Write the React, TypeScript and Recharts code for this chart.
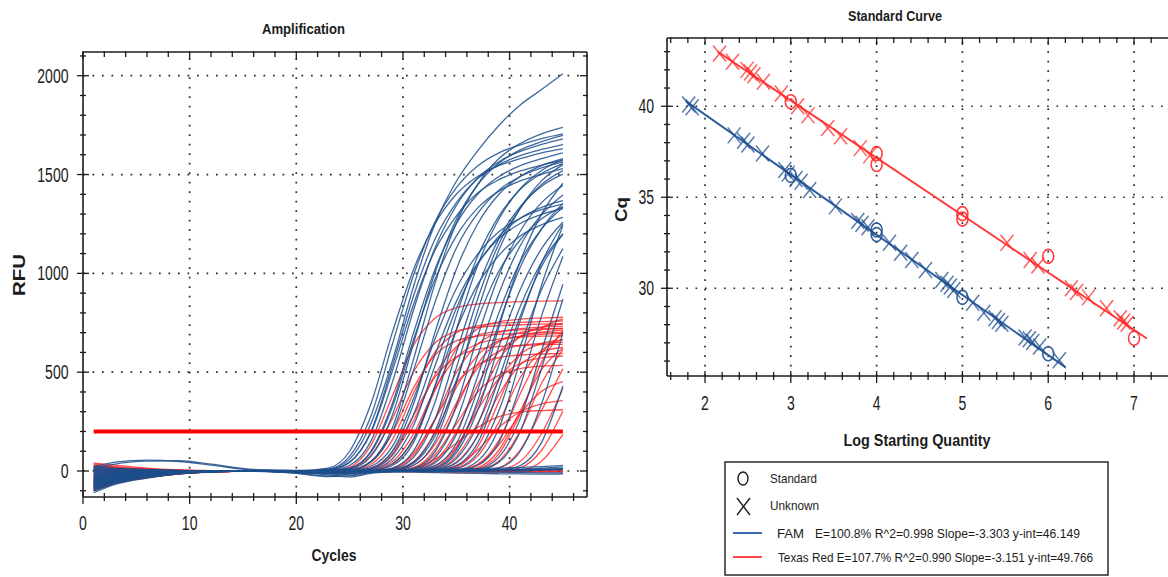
import React from "react";
import { LineChart, Line, XAxis, YAxis, ReferenceLine, ScatterChart, Scatter } from "recharts";

/* ---------- Amplification (RFU per cycle, one row per well) ---------- */

const CYCLES = [1, 3, 6, 9, 12, 16, 20, 23, 25, 27, 29, 31, 33, 35, 37, 39, 41, 43, 45];

const FAM_CURVES: number[][] = [
  [-40, -25, -12, -5, -1, 3, 2, 15, 100, 340, 700, 1020, 1250, 1400, 1490, 1545, 1580, 1610, 1630],
  [-70, -45, -24, -10, -3, 2, -2, 9, 74, 278, 640, 992, 1260, 1433, 1543, 1610, 1650, 1682, 1706],
  [-20, -12, -6, -2, 0, 2, 1, 8, 60, 240, 555, 935, 1250, 1465, 1620, 1748, 1852, 1930, 2010],
  [-90, -55, -30, -12, -4, 3, 0, 5, 45, 200, 530, 887, 1173, 1357, 1479, 1550, 1596, 1627, 1652],
  [10, 6, 3, 1, 0, -2, -3, 5, 44, 194, 504, 844, 1116, 1290, 1407, 1474, 1518, 1548, 1571],
  [-55, -35, -18, -7, -2, 1, -1, 3, 29, 151, 447, 816, 1128, 1342, 1482, 1565, 1617, 1652, 1680],
  [-30, -18, -9, -4, -1, 2, 3, 2, 15, 100, 340, 700, 1020, 1250, 1400, 1490, 1545, 1580, 1610],
  [-80, -50, -26, -11, -3, 2, -1, 2, 14, 95, 323, 665, 969, 1188, 1330, 1416, 1468, 1501, 1530],
  [25, 15, 8, 3, 1, -1, -2, 1, 10, 74, 281, 647, 1002, 1272, 1447, 1558, 1625, 1666, 1698],
  [-15, -9, -4, -2, 0, 1, 2, 0, 5, 49, 218, 567, 948, 1254, 1450, 1581, 1657, 1706, 1739],
  [-65, -40, -21, -9, -2, 2, 0, 0, 3, 24, 123, 366, 667, 922, 1097, 1211, 1279, 1322, 1350],
  [-45, -28, -14, -6, -2, 1, -3, 0, 2, 13, 84, 286, 588, 857, 1050, 1176, 1252, 1298, 1327],
  [5, 3, 1, 0, 0, -1, -4, 0, 1, 8, 61, 231, 531, 822, 1044, 1188, 1279, 1334, 1368],
  [-100, -62, -33, -14, -4, 1, -2, 0, 0, 4, 37, 164, 426, 713, 943, 1091, 1189, 1246, 1283],
  [-35, -22, -11, -5, -1, 2, -5, -3, 0, 3, 28, 145, 430, 785, 1085, 1290, 1425, 1505, 1555],
  [-75, -46, -25, -10, -3, 1, -8, -6, 0, 2, 15, 102, 347, 714, 1040, 1275, 1428, 1520, 1576],
  [-5, -3, -1, 0, 0, -2, -4, -2, 0, 1, 9, 69, 260, 598, 926, 1176, 1338, 1441, 1502],
  [-50, -31, -16, -7, -2, 2, 0, 0, 0, 0, 5, 45, 200, 520, 870, 1150, 1330, 1450, 1520],
  [-85, -52, -28, -12, -3, 1, -1, -4, 0, 0, 3, 29, 149, 443, 809, 1118, 1329, 1468, 1550],
  [15, 9, 4, 2, 0, -1, -2, -2, 0, 0, 2, 15, 97, 330, 679, 989, 1213, 1358, 1445],
  [-60, -37, -19, -8, -2, 1, -6, -12, -4, 0, 1, 9, 67, 252, 580, 898, 1140, 1297, 1397],
  [-25, -15, -8, -3, -1, 1, -10, -25, -15, 0, 0, 5, 41, 184, 478, 800, 1058, 1224, 1334],
  [-95, -58, -31, -13, -4, 0, -2, -3, 0, 0, 0, 3, 27, 138, 409, 746, 1031, 1226, 1354],
  [-40, -24, -12, -5, -1, 2, 1, 0, 0, 0, 0, 2, 14, 90, 306, 630, 918, 1125, 1260],
  [-70, -43, -22, -9, -3, 1, -3, 0, 0, 0, 0, 1, 8, 62, 233, 537, 832, 1056, 1201],
  [0, 1, 0, -1, 0, 1, -5, -8, -2, 0, 0, 0, 5, 41, 180, 468, 783, 1035, 1197],
  [-50, -30, -15, -6, -2, 2, 0, 0, 0, 0, 0, 0, 2, 14, 90, 306, 630, 918, 1125],
  [-30, -19, -9, -4, -1, 1, -2, 0, 0, 0, 0, 0, 0, 5, 49, 216, 562, 940, 1242],
  [-110, -68, -36, -15, -4, 0, -3, -5, 0, 0, 0, 0, 0, 3, 28, 145, 430, 785, 1085],
  [20, 12, 6, 2, 0, -1, 0, 0, 0, 0, 0, 0, 0, 0, 9, 70, 265, 610, 945],
  [-65, -40, -20, -8, -2, 2, -4, 0, 0, 0, 0, 0, 0, 0, 0, 15, 100, 340, 700],
  [-20, -12, -6, -2, 0, 1, -1, 0, 0, 0, 0, 0, 0, 0, 0, 3, 28, 145, 430],
  [-85, -53, -28, -12, -3, 1, -2, 0, 0, 0, 0, 2, 16, 104, 354, 728, 1061, 1300, 1456],
  [-55, -34, -17, -7, -2, 2, 0, 0, 2, 15, 100, 340, 700, 1020, 1250, 1400, 1490, 1545, 1580],
  [-10, -6, -3, -1, 0, 2, 1, 0, 5, 44, 196, 510, 853, 1127, 1303, 1421, 1490, 1534, 1563],
  [-75, -46, -24, -10, -3, 1, -2, 0, 0, 0, 4, 40, 176, 458, 766, 1012, 1170, 1276, 1338],
  [-45, -28, -14, -6, -2, 1, -1, 0, 0, 0, 0, 0, 3, 27, 141, 417, 761, 1052, 1251],
  [-15, -9, -4, -2, 0, 1, 0, 0, 0, 0, 0, 0, 0, 0, 5, 45, 200, 520, 870],
  // no amplification
  [20, 45, 55, 48, 30, 5, 0, -5, -3, 0, 2, 0, -2, 1, 3, 2, 0, 4, 6],
  [10, 35, 50, 52, 35, 8, 2, -8, -10, -2, 0, 2, 1, 0, -1, 3, 4, 6, 10],
  [-60, -36, -18, -7, -2, 1, -12, -28, -25, -8, -2, 0, 1, 3, 5, 8, 10, 14, 20],
  [-30, -18, -9, -4, -1, 0, -5, -15, -20, -6, -3, -1, 0, -2, -4, -6, -8, -9, -10],
  [-85, -50, -25, -10, -3, -1, -2, -5, -6, -3, 2, 5, 8, 10, 12, 15, 18, 22, 28],
  [0, 2, 1, 0, -1, -2, -4, -10, -12, -5, -4, -6, -8, -10, -12, -14, -15, -16, -15],
  [-50, -30, -15, -6, -2, 0, -8, -20, -30, -12, -4, 0, 3, 5, 6, 7, 8, 10, 12],
  [-100, -62, -32, -13, -4, 0, -1, -2, 0, 3, 5, 6, 4, 2, 3, 5, 6, 8, 9],
];

const TEXAS_RED_CURVES: number[][] = [
  [35, 22, 10, 4, 1, -2, -1, 2, 21, 130, 378, 637, 773, 826, 845, 852, 857, 860, 861],
  [-80, -52, -28, -12, -4, 0, -2, 1, 11, 80, 263, 502, 648, 708, 727, 735, 740, 743, 745],
  [-40, -25, -13, -5, -1, 1, 0, 0, 6, 48, 192, 422, 586, 658, 682, 691, 696, 699, 701],
  [20, 13, 6, 2, 0, -1, -2, 0, 4, 33, 156, 395, 601, 699, 734, 748, 752, 756, 759],
  [-65, -42, -22, -9, -3, 1, -1, 0, 2, 16, 97, 282, 475, 576, 616, 630, 635, 639, 641],
  [-95, -60, -32, -14, -4, 0, -3, 0, 1, 11, 77, 255, 487, 629, 687, 706, 714, 719, 721],
  [5, 3, 1, 0, 0, -1, 0, 0, 0, 6, 47, 188, 414, 573, 644, 667, 677, 682, 684],
  [-50, -32, -17, -7, -2, 1, -1, 0, 0, 4, 34, 161, 407, 618, 719, 755, 768, 774, 778],
  [-20, -13, -6, -2, 0, 1, -1, 0, 0, 2, 15, 90, 262, 443, 537, 574, 587, 592, 595],
  [-75, -48, -25, -10, -3, 0, -2, 0, 0, 1, 11, 79, 261, 497, 641, 701, 720, 728, 733],
  [30, 19, 9, 3, 1, -1, -2, 0, 0, 0, 6, 48, 192, 422, 586, 658, 682, 691, 696],
  [-35, -22, -11, -4, -1, 1, 0, 0, 0, 0, 4, 29, 135, 342, 520, 605, 635, 646, 651],
  [-55, -35, -18, -7, -2, 0, -1, 0, 0, 0, 1, 13, 81, 237, 400, 485, 518, 530, 534],
  [-10, -6, -3, -1, 0, 1, 0, 0, 0, 0, 0, 10, 60, 140, 220, 275, 298, 306, 310],
  [-85, -54, -29, -12, -3, 0, -2, 0, 0, 0, 0, 6, 50, 198, 436, 604, 678, 703, 713],
  [0, 0, 1, 0, 0, -1, -1, 0, 0, 0, 0, 3, 26, 122, 308, 468, 544, 572, 582],
  [-45, -28, -15, -6, -2, 1, 0, 0, 0, 0, 0, 2, 19, 114, 333, 562, 681, 728, 745],
  [-100, -64, -34, -14, -4, 0, -2, 0, 0, 0, 0, 0, 10, 73, 240, 458, 591, 645, 663],
  [15, 9, 4, 1, 0, -1, -1, 0, 0, 0, 0, 0, 5, 44, 176, 387, 537, 603, 625],
  [-60, -38, -20, -8, -2, 0, -1, 0, 0, 0, 0, 0, 3, 25, 105, 220, 300, 340, 356],
  [-25, -16, -8, -3, -1, 1, 0, 0, 0, 0, 0, 0, 2, 20, 121, 352, 594, 720, 770],
  [-70, -45, -24, -10, -3, 0, -1, 0, 0, 0, 0, 0, 0, 11, 75, 248, 472, 610, 666],
  [-30, -19, -10, -4, -1, 0, 0, 0, 0, 0, 0, 0, 0, 4, 33, 132, 290, 403, 452],
  [25, 16, 8, 3, 1, -1, -1, 0, 0, 0, 0, 0, 0, 4, 33, 155, 391, 595, 692],
  [-90, -57, -30, -12, -3, 0, -1, 0, 0, 0, 0, 0, 0, 0, 17, 105, 304, 513, 622],
  [-40, -25, -13, -5, -1, 1, 0, 0, 0, 0, 0, 0, 0, 0, 12, 87, 289, 551, 711],
  [-15, -10, -5, -2, 0, 0, -1, 0, 0, 0, 0, 0, 0, 0, 6, 51, 202, 444, 616],
  [-60, -38, -20, -8, -2, 0, -1, 0, 0, 0, 0, 0, 0, 0, 0, 17, 106, 307, 518],
  [10, 6, 3, 1, 0, 0, -1, 0, 0, 0, 0, 0, 0, 0, 0, 6, 48, 190, 418],
  [-80, -50, -27, -11, -3, 0, -1, 0, 0, 0, 0, 0, 0, 0, 0, 0, 17, 105, 304],
  [-50, -31, -16, -6, -2, 0, 0, 0, 0, 0, 0, 0, 0, 0, 0, 0, 5, 50, 185],
  [-30, -19, -10, -4, -1, 1, 0, 0, 0, 0, 2, 18, 110, 320, 540, 655, 700, 716, 722],
  // no amplification
  [40, 30, 15, 6, 2, -1, -3, -4, -2, 0, 1, 0, -2, -4, -6, -4, -2, 0, -1],
  [-90, -60, -35, -15, -4, 0, -2, -6, -4, -2, 0, 2, 1, 0, -1, 0, 2, 1, 0],
  [-70, -50, -30, -14, -5, -1, -3, -8, -12, -6, -3, -4, -6, -5, -3, -4, -6, -5, -4],
];

const THRESHOLD = 200;
const THRESHOLD_CYCLES = [1, 45];
const AMP_X_LABELS = [0, 10, 20, 30, 40];
const AMP_Y_LABELS = [0, 500, 1000, 1500, 2000];

/* ---------- Standard curve (Cq vs log starting quantity) ---------- */

const FAM_UNKNOWN_LOGQ = [1.81, 1.85, 2.34, 2.45, 2.5, 2.67, 2.93, 2.97, 3.06, 3.12, 3.22, 3.52, 3.78, 3.83, 3.9, 4.15, 4.28, 4.41, 4.57, 4.76, 4.82, 4.86, 4.9, 5.12, 5.25, 5.38, 5.42, 5.46, 5.73, 5.78, 5.82, 5.9, 6.13];
const FAM_UNKNOWN_CQ = [40.1, 39.95, 38.4, 38.1, 37.9, 37.4, 36.5, 36.3, 36.0, 35.85, 35.4, 34.5, 33.7, 33.55, 33.35, 32.5, 31.95, 31.55, 31.0, 30.45, 30.25, 30.1, 29.9, 29.2, 28.65, 28.35, 28.2, 28.05, 27.3, 27.2, 27.05, 26.8, 26.05];
const FAM_STANDARD_LOGQ = [3, 4, 4, 5, 6];
const FAM_STANDARD_CQ = [36.2, 33.2, 32.95, 29.5, 26.4];
const FAM_FIT_LOGQ = [1.78, 6.2];
const FAM_FIT_CQ = [40.27, 25.67];

const TR_UNKNOWN_LOGQ = [2.17, 2.32, 2.49, 2.53, 2.57, 2.68, 2.89, 3.08, 3.2, 3.43, 3.58, 3.81, 3.92, 5.52, 5.79, 5.88, 6.27, 6.33, 6.47, 6.68, 6.84, 6.88, 6.92];
const TR_UNKNOWN_CQ = [42.9, 42.45, 42.0, 41.85, 41.7, 41.35, 40.7, 40.0, 39.5, 38.8, 38.35, 37.7, 37.3, 32.5, 31.55, 31.25, 30.0, 29.8, 29.5, 28.9, 28.35, 28.17, 28.05];
const TR_STANDARD_LOGQ = [3, 4, 4, 5, 5, 6, 7];
const TR_STANDARD_CQ = [40.25, 37.4, 36.8, 34.1, 33.8, 31.75, 27.25];
const TR_FIT_LOGQ = [2.15, 7.15];
const TR_FIT_CQ = [42.99, 27.24];

const SC_X_LABELS = [2, 3, 4, 5, 6, 7];
const SC_Y_LABELS = [30, 35, 40];

/* ---------- styling ---------- */

const INK = "#1c1c1c";
const FONT = "'Liberation Sans', Arial, Helvetica, sans-serif";
const FAM_BLUE = "#1d4f8c";
const TR_RED = "#ff1414";

const ampRows = CYCLES.map((cycle, i) => {
  const row: Record<string, number> = { cycle };
  FAM_CURVES.forEach((c, k) => (row[`fam${k}`] = c[i]));
  TEXAS_RED_CURVES.forEach((c, k) => (row[`tr${k}`] = c[i]));
  return row;
});

const pts = (xs: number[], ys: number[]) => xs.map((x, i) => ({ x, y: ys[i] }));

const AMP_X_TICKS = Array.from({ length: 24 }, (_, i) => i * 2);
const AMP_Y_TICKS = Array.from({ length: 23 }, (_, i) => -100 + i * 100);
const SC_X_TICKS = Array.from({ length: 29 }, (_, i) => Math.round((1.6 + i * 0.2) * 10) / 10);
const SC_Y_TICKS = Array.from({ length: 18 }, (_, i) => 26 + i);

const AMP_X_DOMAIN: [number, number] = [0, 47.26];
const AMP_Y_DOMAIN: [number, number] = [-131.5, 2120];
const SC_X_DOMAIN: [number, number] = [1.557, 7.396];
const SC_Y_DOMAIN: [number, number] = [25.18, 43.75];

function Num({ x, y, value, anchor }: { x: number; y: number; value: number; anchor: "start" | "middle" | "end" }) {
  const s = String(value);
  return (
    <text x={x} y={y} textAnchor={anchor} fontSize={20} fontFamily={FONT} fill={INK}
      textLength={s.length * 7.8} lengthAdjust="spacingAndGlyphs">
      {s}
    </text>
  );
}

function BottomTick({ x = 0, y = 0, payload, labels, major, dy }: any) {
  const v = payload?.value;
  const big = major(v);
  return (
    <g>
      <line x1={x} x2={x} y1={y - (big ? 5 : 4)} y2={y + (big ? 7 : 4)} stroke={INK} strokeWidth={1.3} />
      {labels.includes(v) && <Num x={x} y={y + dy} value={v} anchor="middle" />}
    </g>
  );
}

function LeftTick({ x = 0, y = 0, payload, labels, major, dx }: any) {
  const v = payload?.value;
  const big = major(v);
  return (
    <g>
      <line x1={x - (big ? 6 : 3)} x2={x + (big ? 6 : 3)} y1={y} y2={y} stroke={INK} strokeWidth={1.3} />
      {labels.includes(v) && <Num x={x - dx} y={y + 7} value={v} anchor="end" />}
    </g>
  );
}

function TopTick({ x = 0, y = 0, payload, major }: any) {
  const big = major(payload?.value);
  return <line x1={x} x2={x} y1={y - 1} y2={y + (big ? 7 : 5)} stroke={INK} strokeWidth={1.3} />;
}

function RightTick({ x = 0, y = 0, payload, major }: any) {
  const big = major(payload?.value);
  return <line x1={x - (big ? 7 : 4)} x2={x + 1} y1={y} y2={y} stroke={INK} strokeWidth={1.3} />;
}

const ampMajorX = (v: number) => v % 10 === 0;
const ampMajorY = (v: number) => v % 500 === 0;
const scMajorX = (v: number) => Number.isInteger(v);
const scMajorY = (v: number) => v % 5 === 0;

const DOTS = { stroke: "#2a2a2a", strokeWidth: 1.7, strokeDasharray: "1.7 7.8" };

function XMark({ cx = 0, cy = 0, color }: any) {
  return (
    <g stroke={color} strokeWidth={1.5} strokeOpacity={0.75}>
      <line x1={cx - 6.5} y1={cy - 8} x2={cx + 6.5} y2={cy + 8} />
      <line x1={cx + 6.5} y1={cy - 8} x2={cx - 6.5} y2={cy + 8} />
    </g>
  );
}

function OMark({ cx = 0, cy = 0, color }: any) {
  return <ellipse cx={cx} cy={cy} rx={5.5} ry={7} fill="none" stroke={color} strokeWidth={1.6} strokeOpacity={0.9} />;
}

function AmplificationChart() {
  return (
    <LineChart width={600} height={577} data={ampRows} margin={{ top: 51, right: 12, bottom: 0, left: 0 }}>
      <XAxis dataKey="cycle" type="number" domain={AMP_X_DOMAIN} allowDataOverflow ticks={AMP_X_TICKS} interval={0}
        height={80} tickSize={0} tickMargin={0} tickLine={false} axisLine={{ stroke: INK, strokeWidth: 1.6 }}
        tick={(p: any) => <BottomTick {...p} labels={AMP_X_LABELS} major={ampMajorX} dy={33} />} />
      <XAxis xAxisId="top" orientation="top" dataKey="cycle" type="number" domain={AMP_X_DOMAIN} allowDataOverflow
        ticks={AMP_X_TICKS} interval={0} height={1} tickSize={0} tickMargin={0} tickLine={false}
        axisLine={{ stroke: INK, strokeWidth: 1.6 }} tick={(p: any) => <TopTick {...p} major={ampMajorX} />} />
      <YAxis type="number" domain={AMP_Y_DOMAIN} allowDataOverflow ticks={AMP_Y_TICKS} interval={0} width={83}
        tickSize={0} tickMargin={0} tickLine={false} axisLine={{ stroke: INK, strokeWidth: 1.6 }}
        tick={(p: any) => <LeftTick {...p} labels={AMP_Y_LABELS} major={ampMajorY} dx={14.5} />} />
      <YAxis yAxisId="right" orientation="right" type="number" domain={AMP_Y_DOMAIN} allowDataOverflow ticks={AMP_Y_TICKS}
        interval={0} width={1} tickSize={0} tickMargin={0} tickLine={false} axisLine={{ stroke: INK, strokeWidth: 1.6 }}
        tick={(p: any) => <RightTick {...p} major={ampMajorY} />} />

      {AMP_X_LABELS.filter((v) => v > 0).map((v) => (
        <ReferenceLine key={`gx${v}`} x={v} {...DOTS} />
      ))}
      {AMP_Y_LABELS.map((v) => (
        <ReferenceLine key={`gy${v}`} y={v} {...DOTS} />
      ))}

      {TEXAS_RED_CURVES.map((_, k) => (
        <Line key={`tr${k}`} dataKey={`tr${k}`} type="monotone" stroke={TR_RED} strokeOpacity={0.75}
          strokeWidth={1.3} dot={false} activeDot={false} isAnimationActive={false} />
      ))}
      {FAM_CURVES.map((_, k) => (
        <Line key={`fam${k}`} dataKey={`fam${k}`} type="monotone" stroke={FAM_BLUE} strokeOpacity={0.85}
          strokeWidth={1.3} dot={false} activeDot={false} isAnimationActive={false} />
      ))}

      <ReferenceLine
        segment={[{ x: THRESHOLD_CYCLES[0], y: THRESHOLD }, { x: THRESHOLD_CYCLES[1], y: THRESHOLD }]}
        stroke="#ff0000" strokeWidth={4} />
    </LineChart>
  );
}

function StandardCurveChart() {
  return (
    <ScatterChart width={568} height={577} margin={{ top: 37, right: 0, bottom: 161, left: 0 }}>
      <XAxis dataKey="x" type="number" domain={SC_X_DOMAIN} allowDataOverflow ticks={SC_X_TICKS} interval={0}
        height={40} tickSize={0} tickMargin={0} tickLine={false} axisLine={{ stroke: INK, strokeWidth: 1.6 }}
        tick={(p: any) => <BottomTick {...p} labels={SC_X_LABELS} major={scMajorX} dy={34} />} />
      <XAxis xAxisId="top" orientation="top" dataKey="x" type="number" domain={SC_X_DOMAIN} allowDataOverflow
        ticks={SC_X_TICKS} interval={0} height={1} tickSize={0} tickMargin={0} tickLine={false}
        axisLine={{ stroke: INK, strokeWidth: 1.6 }} tick={(p: any) => <TopTick {...p} major={scMajorX} />} />
      <YAxis dataKey="y" type="number" domain={SC_Y_DOMAIN} allowDataOverflow ticks={SC_Y_TICKS} interval={0} width={67}
        tickSize={0} tickMargin={0} tickLine={false} axisLine={{ stroke: INK, strokeWidth: 1.6 }}
        tick={(p: any) => <LeftTick {...p} labels={SC_Y_LABELS} major={scMajorY} dx={13} />} />

      {SC_X_LABELS.map((v) => (
        <ReferenceLine key={`gx${v}`} x={v} {...DOTS} />
      ))}
      {SC_Y_LABELS.map((v) => (
        <ReferenceLine key={`gy${v}`} y={v} {...DOTS} />
      ))}

      <Scatter data={pts(FAM_FIT_LOGQ, FAM_FIT_CQ)} line={{ stroke: "#2c5c9c", strokeWidth: 2 }}
        shape={() => <g />} isAnimationActive={false} />
      <Scatter data={pts(TR_FIT_LOGQ, TR_FIT_CQ)} line={{ stroke: "#ff3a3a", strokeWidth: 2 }}
        shape={() => <g />} isAnimationActive={false} />
      <Scatter data={pts(FAM_UNKNOWN_LOGQ, FAM_UNKNOWN_CQ)} shape={(p: any) => <XMark {...p} color="#1f5090" />}
        isAnimationActive={false} />
      <Scatter data={pts(FAM_STANDARD_LOGQ, FAM_STANDARD_CQ)} shape={(p: any) => <OMark {...p} color="#1f5090" />}
        isAnimationActive={false} />
      <Scatter data={pts(TR_UNKNOWN_LOGQ, TR_UNKNOWN_CQ)} shape={(p: any) => <XMark {...p} color="#ff2a2a" />}
        isAnimationActive={false} />
      <Scatter data={pts(TR_STANDARD_LOGQ, TR_STANDARD_CQ)} shape={(p: any) => <OMark {...p} color="#ff2a2a" />}
        isAnimationActive={false} />
    </ScatterChart>
  );
}

function Caption({ x, y, w, size, children, rotate }: any) {
  const t = (
    <text x={rotate ? 0 : x} y={rotate ? 0 : y} textAnchor="middle" fontFamily={FONT} fontWeight={700}
      fontSize={size} fill={INK} textLength={w} lengthAdjust="spacingAndGlyphs">
      {children}
    </text>
  );
  return rotate ? <g transform={`translate(${x},${y}) rotate(-90) translate(0,6)`}>{t}</g> : t;
}

function LegendText({ x, y, w, children }: any) {
  return (
    <text x={x} y={y} fontFamily={FONT} fontSize={13} fill={INK} textLength={w} lengthAdjust="spacingAndGlyphs">
      {children}
    </text>
  );
}

export default function App() {
  return (
    <div style={{ position: "absolute", left: 0, top: 0, width: 1168, height: 577, background: "#fff" }}>
      <div style={{ position: "absolute", left: 0, top: 0 }}>
        <AmplificationChart />
      </div>
      <div style={{ position: "absolute", left: 600, top: 0 }}>
        <StandardCurveChart />
      </div>
      <svg width={1168} height={577} style={{ position: "absolute", left: 0, top: 0, pointerEvents: "none" }}>
        <Caption x={303.5} y={33.5} w={83} size={15}>Amplification</Caption>
        <Caption x={334} y={561} w={45} size={17}>Cycles</Caption>
        <Caption x={19} y={275} w={42} size={17} rotate>RFU</Caption>
        <Caption x={895} y={20.5} w={94} size={15}>Standard Curve</Caption>
        <Caption x={917} y={446} w={147} size={17}>Log Starting Quantity</Caption>
        <Caption x={621} y={209.5} w={25} size={17} rotate>Cq</Caption>

        <rect x={725} y={462} width={383} height={113} fill="#fff" stroke="#2a2a2a" strokeWidth={1.5} />
        <ellipse cx={743} cy={478.5} rx={5} ry={6.5} fill="none" stroke={INK} strokeWidth={1.4} />
        <LegendText x={770} y={483} w={47}>Standard</LegendText>
        <g stroke={INK} strokeWidth={1.4}>
          <line x1={737} y1={498} x2={750} y2={515} />
          <line x1={750} y1={498} x2={737} y2={515} />
        </g>
        <LegendText x={770} y={510} w={49}>Unknown</LegendText>
        <line x1={733} y1={533} x2={762} y2={533} stroke="#3a6cb0" strokeWidth={2} />
        <LegendText x={777} y={538} w={27}>FAM</LegendText>
        <LegendText x={815} y={538} w={265}>E=100.8% R^2=0.998 Slope=-3.303 y-int=46.149</LegendText>
        <line x1={733} y1={557} x2={762} y2={557} stroke="#ff4a4a" strokeWidth={2} />
        <LegendText x={778} y={562} w={315}>Texas Red E=107.7% R^2=0.990 Slope=-3.151 y-int=49.766</LegendText>
      </svg>
    </div>
  );
}
